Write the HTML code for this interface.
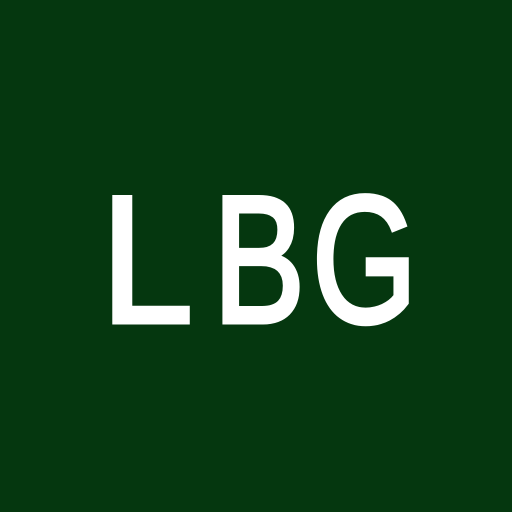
<!DOCTYPE html>
<html><head><meta charset="utf-8"><style>
html,body{margin:0;padding:0;width:512px;height:512px;overflow:hidden;background:#05370f}
</style></head><body>
<svg width="512" height="512" viewBox="0 0 512 512">
<rect width="512" height="512" fill="#05370f"/>
<g fill="#ffffff" stroke="#ffffff" stroke-width="5" stroke-linejoin="miter" font-family="Liberation Sans, DejaVu Sans, sans-serif" font-size="181">
<text x="101" y="322" textLength="92" lengthAdjust="spacingAndGlyphs">L</text>
<text x="213" y="322" textLength="92" lengthAdjust="spacingAndGlyphs">B</text>
<text x="312" y="322" textLength="105" lengthAdjust="spacingAndGlyphs">G</text>
</g>
</svg>
</body></html>
